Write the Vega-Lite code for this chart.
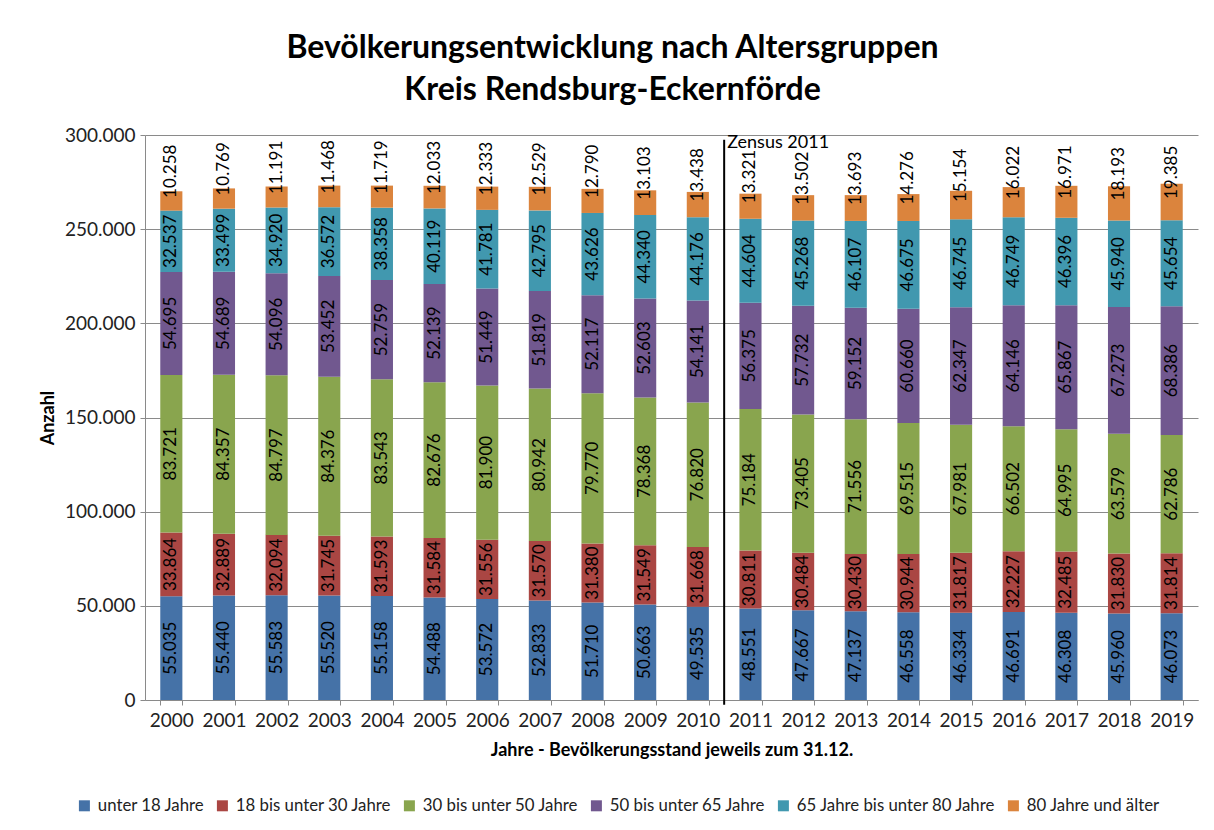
{
  "$schema": "https://vega.github.io/schema/vega-lite/v6.json",
  "width": 1053,
  "height": 565,
  "autosize": {"type": "none"},
  "padding": {"left": 145, "top": 135, "right": 16, "bottom": 130},
  "background": "#ffffff",
  "title": {
    "text": ["Bevölkerungsentwicklung nach Altersgruppen", "Kreis Rendsburg-Eckernförde"],
    "fontSize": 32,
    "fontWeight": "bold",
    "font": "Lato",
    "color": "#000000",
    "lineHeight": 42,
    "anchor": "middle",
    "frame": "group",
    "dx": -59,
    "offset": 19
  },
  "data": {
    "values": [
      {"year": "2000", "g": "unter 18 Jahre", "o": 1, "v": 55035},
      {"year": "2000", "g": "18 bis unter 30 Jahre", "o": 2, "v": 33864},
      {"year": "2000", "g": "30 bis unter 50 Jahre", "o": 3, "v": 83721},
      {"year": "2000", "g": "50 bis unter 65 Jahre", "o": 4, "v": 54695},
      {"year": "2000", "g": "65 Jahre bis unter 80 Jahre", "o": 5, "v": 32537},
      {"year": "2000", "g": "80 Jahre und älter", "o": 6, "v": 10258},
      {"year": "2001", "g": "unter 18 Jahre", "o": 1, "v": 55440},
      {"year": "2001", "g": "18 bis unter 30 Jahre", "o": 2, "v": 32889},
      {"year": "2001", "g": "30 bis unter 50 Jahre", "o": 3, "v": 84357},
      {"year": "2001", "g": "50 bis unter 65 Jahre", "o": 4, "v": 54689},
      {"year": "2001", "g": "65 Jahre bis unter 80 Jahre", "o": 5, "v": 33499},
      {"year": "2001", "g": "80 Jahre und älter", "o": 6, "v": 10769},
      {"year": "2002", "g": "unter 18 Jahre", "o": 1, "v": 55583},
      {"year": "2002", "g": "18 bis unter 30 Jahre", "o": 2, "v": 32094},
      {"year": "2002", "g": "30 bis unter 50 Jahre", "o": 3, "v": 84797},
      {"year": "2002", "g": "50 bis unter 65 Jahre", "o": 4, "v": 54096},
      {"year": "2002", "g": "65 Jahre bis unter 80 Jahre", "o": 5, "v": 34920},
      {"year": "2002", "g": "80 Jahre und älter", "o": 6, "v": 11191},
      {"year": "2003", "g": "unter 18 Jahre", "o": 1, "v": 55520},
      {"year": "2003", "g": "18 bis unter 30 Jahre", "o": 2, "v": 31745},
      {"year": "2003", "g": "30 bis unter 50 Jahre", "o": 3, "v": 84376},
      {"year": "2003", "g": "50 bis unter 65 Jahre", "o": 4, "v": 53452},
      {"year": "2003", "g": "65 Jahre bis unter 80 Jahre", "o": 5, "v": 36572},
      {"year": "2003", "g": "80 Jahre und älter", "o": 6, "v": 11468},
      {"year": "2004", "g": "unter 18 Jahre", "o": 1, "v": 55158},
      {"year": "2004", "g": "18 bis unter 30 Jahre", "o": 2, "v": 31593},
      {"year": "2004", "g": "30 bis unter 50 Jahre", "o": 3, "v": 83543},
      {"year": "2004", "g": "50 bis unter 65 Jahre", "o": 4, "v": 52759},
      {"year": "2004", "g": "65 Jahre bis unter 80 Jahre", "o": 5, "v": 38358},
      {"year": "2004", "g": "80 Jahre und älter", "o": 6, "v": 11719},
      {"year": "2005", "g": "unter 18 Jahre", "o": 1, "v": 54488},
      {"year": "2005", "g": "18 bis unter 30 Jahre", "o": 2, "v": 31584},
      {"year": "2005", "g": "30 bis unter 50 Jahre", "o": 3, "v": 82676},
      {"year": "2005", "g": "50 bis unter 65 Jahre", "o": 4, "v": 52139},
      {"year": "2005", "g": "65 Jahre bis unter 80 Jahre", "o": 5, "v": 40119},
      {"year": "2005", "g": "80 Jahre und älter", "o": 6, "v": 12033},
      {"year": "2006", "g": "unter 18 Jahre", "o": 1, "v": 53572},
      {"year": "2006", "g": "18 bis unter 30 Jahre", "o": 2, "v": 31556},
      {"year": "2006", "g": "30 bis unter 50 Jahre", "o": 3, "v": 81900},
      {"year": "2006", "g": "50 bis unter 65 Jahre", "o": 4, "v": 51449},
      {"year": "2006", "g": "65 Jahre bis unter 80 Jahre", "o": 5, "v": 41781},
      {"year": "2006", "g": "80 Jahre und älter", "o": 6, "v": 12333},
      {"year": "2007", "g": "unter 18 Jahre", "o": 1, "v": 52833},
      {"year": "2007", "g": "18 bis unter 30 Jahre", "o": 2, "v": 31570},
      {"year": "2007", "g": "30 bis unter 50 Jahre", "o": 3, "v": 80942},
      {"year": "2007", "g": "50 bis unter 65 Jahre", "o": 4, "v": 51819},
      {"year": "2007", "g": "65 Jahre bis unter 80 Jahre", "o": 5, "v": 42795},
      {"year": "2007", "g": "80 Jahre und älter", "o": 6, "v": 12529},
      {"year": "2008", "g": "unter 18 Jahre", "o": 1, "v": 51710},
      {"year": "2008", "g": "18 bis unter 30 Jahre", "o": 2, "v": 31380},
      {"year": "2008", "g": "30 bis unter 50 Jahre", "o": 3, "v": 79770},
      {"year": "2008", "g": "50 bis unter 65 Jahre", "o": 4, "v": 52117},
      {"year": "2008", "g": "65 Jahre bis unter 80 Jahre", "o": 5, "v": 43626},
      {"year": "2008", "g": "80 Jahre und älter", "o": 6, "v": 12790},
      {"year": "2009", "g": "unter 18 Jahre", "o": 1, "v": 50663},
      {"year": "2009", "g": "18 bis unter 30 Jahre", "o": 2, "v": 31549},
      {"year": "2009", "g": "30 bis unter 50 Jahre", "o": 3, "v": 78368},
      {"year": "2009", "g": "50 bis unter 65 Jahre", "o": 4, "v": 52603},
      {"year": "2009", "g": "65 Jahre bis unter 80 Jahre", "o": 5, "v": 44340},
      {"year": "2009", "g": "80 Jahre und älter", "o": 6, "v": 13103},
      {"year": "2010", "g": "unter 18 Jahre", "o": 1, "v": 49535},
      {"year": "2010", "g": "18 bis unter 30 Jahre", "o": 2, "v": 31668},
      {"year": "2010", "g": "30 bis unter 50 Jahre", "o": 3, "v": 76820},
      {"year": "2010", "g": "50 bis unter 65 Jahre", "o": 4, "v": 54141},
      {"year": "2010", "g": "65 Jahre bis unter 80 Jahre", "o": 5, "v": 44176},
      {"year": "2010", "g": "80 Jahre und älter", "o": 6, "v": 13438},
      {"year": "2011", "g": "unter 18 Jahre", "o": 1, "v": 48551},
      {"year": "2011", "g": "18 bis unter 30 Jahre", "o": 2, "v": 30811},
      {"year": "2011", "g": "30 bis unter 50 Jahre", "o": 3, "v": 75184},
      {"year": "2011", "g": "50 bis unter 65 Jahre", "o": 4, "v": 56375},
      {"year": "2011", "g": "65 Jahre bis unter 80 Jahre", "o": 5, "v": 44604},
      {"year": "2011", "g": "80 Jahre und älter", "o": 6, "v": 13321},
      {"year": "2012", "g": "unter 18 Jahre", "o": 1, "v": 47667},
      {"year": "2012", "g": "18 bis unter 30 Jahre", "o": 2, "v": 30484},
      {"year": "2012", "g": "30 bis unter 50 Jahre", "o": 3, "v": 73405},
      {"year": "2012", "g": "50 bis unter 65 Jahre", "o": 4, "v": 57732},
      {"year": "2012", "g": "65 Jahre bis unter 80 Jahre", "o": 5, "v": 45268},
      {"year": "2012", "g": "80 Jahre und älter", "o": 6, "v": 13502},
      {"year": "2013", "g": "unter 18 Jahre", "o": 1, "v": 47137},
      {"year": "2013", "g": "18 bis unter 30 Jahre", "o": 2, "v": 30430},
      {"year": "2013", "g": "30 bis unter 50 Jahre", "o": 3, "v": 71556},
      {"year": "2013", "g": "50 bis unter 65 Jahre", "o": 4, "v": 59152},
      {"year": "2013", "g": "65 Jahre bis unter 80 Jahre", "o": 5, "v": 46107},
      {"year": "2013", "g": "80 Jahre und älter", "o": 6, "v": 13693},
      {"year": "2014", "g": "unter 18 Jahre", "o": 1, "v": 46558},
      {"year": "2014", "g": "18 bis unter 30 Jahre", "o": 2, "v": 30944},
      {"year": "2014", "g": "30 bis unter 50 Jahre", "o": 3, "v": 69515},
      {"year": "2014", "g": "50 bis unter 65 Jahre", "o": 4, "v": 60660},
      {"year": "2014", "g": "65 Jahre bis unter 80 Jahre", "o": 5, "v": 46675},
      {"year": "2014", "g": "80 Jahre und älter", "o": 6, "v": 14276},
      {"year": "2015", "g": "unter 18 Jahre", "o": 1, "v": 46334},
      {"year": "2015", "g": "18 bis unter 30 Jahre", "o": 2, "v": 31817},
      {"year": "2015", "g": "30 bis unter 50 Jahre", "o": 3, "v": 67981},
      {"year": "2015", "g": "50 bis unter 65 Jahre", "o": 4, "v": 62347},
      {"year": "2015", "g": "65 Jahre bis unter 80 Jahre", "o": 5, "v": 46745},
      {"year": "2015", "g": "80 Jahre und älter", "o": 6, "v": 15154},
      {"year": "2016", "g": "unter 18 Jahre", "o": 1, "v": 46691},
      {"year": "2016", "g": "18 bis unter 30 Jahre", "o": 2, "v": 32227},
      {"year": "2016", "g": "30 bis unter 50 Jahre", "o": 3, "v": 66502},
      {"year": "2016", "g": "50 bis unter 65 Jahre", "o": 4, "v": 64146},
      {"year": "2016", "g": "65 Jahre bis unter 80 Jahre", "o": 5, "v": 46749},
      {"year": "2016", "g": "80 Jahre und älter", "o": 6, "v": 16022},
      {"year": "2017", "g": "unter 18 Jahre", "o": 1, "v": 46308},
      {"year": "2017", "g": "18 bis unter 30 Jahre", "o": 2, "v": 32485},
      {"year": "2017", "g": "30 bis unter 50 Jahre", "o": 3, "v": 64995},
      {"year": "2017", "g": "50 bis unter 65 Jahre", "o": 4, "v": 65867},
      {"year": "2017", "g": "65 Jahre bis unter 80 Jahre", "o": 5, "v": 46396},
      {"year": "2017", "g": "80 Jahre und älter", "o": 6, "v": 16971},
      {"year": "2018", "g": "unter 18 Jahre", "o": 1, "v": 45960},
      {"year": "2018", "g": "18 bis unter 30 Jahre", "o": 2, "v": 31830},
      {"year": "2018", "g": "30 bis unter 50 Jahre", "o": 3, "v": 63579},
      {"year": "2018", "g": "50 bis unter 65 Jahre", "o": 4, "v": 67273},
      {"year": "2018", "g": "65 Jahre bis unter 80 Jahre", "o": 5, "v": 45940},
      {"year": "2018", "g": "80 Jahre und älter", "o": 6, "v": 18193},
      {"year": "2019", "g": "unter 18 Jahre", "o": 1, "v": 46073},
      {"year": "2019", "g": "18 bis unter 30 Jahre", "o": 2, "v": 31814},
      {"year": "2019", "g": "30 bis unter 50 Jahre", "o": 3, "v": 62786},
      {"year": "2019", "g": "50 bis unter 65 Jahre", "o": 4, "v": 68386},
      {"year": "2019", "g": "65 Jahre bis unter 80 Jahre", "o": 5, "v": 45654},
      {"year": "2019", "g": "80 Jahre und älter", "o": 6, "v": 19385}
    ]
  },
  "encoding": {
    "x": {
      "field": "year",
      "type": "nominal",
      "sort": null,
      "scale": {"type": "band", "paddingInner": 0.58, "paddingOuter": 0.29},
      "axis": {
        "title": "Jahre - Bevölkerungsstand jeweils zum 31.12.",
        "titleFontWeight": "bold",
        "titleFontSize": 18,
        "titleColor": "#000000",
        "titlePadding": 11,
        "labelAngle": 0,
        "labelFontSize": 19,
        "labelColor": "#222222",
        "labelPadding": 6,
        "tickBand": "extent",
        "tickSize": 5,
        "tickColor": "#8a8a8a",
        "domainColor": "#8a8a8a",
        "grid": false
      }
    }
  },
  "layer": [
    {
      "transform": [
        {"stack": "v", "groupby": ["year"], "sort": [{"field": "o", "order": "ascending"}], "as": ["v0", "v1"]}
      ],
      "mark": {"type": "bar"},
      "encoding": {
        "y": {
          "field": "v0",
          "type": "quantitative",
          "scale": {"domain": [0, 300000], "nice": false},
          "axis": {
            "title": "Anzahl",
            "titleFontWeight": "bold",
            "titleFontSize": 18,
            "titleColor": "#000000",
            "titlePadding": 7,
            "values": [0, 50000, 100000, 150000, 200000, 250000, 300000],
            "format": ",d",
            "labelFontSize": 19,
            "labelColor": "#222222",
            "labelPadding": 5,
            "tickSize": 5,
            "tickColor": "#8a8a8a",
            "domainColor": "#8a8a8a",
            "grid": true,
            "gridColor": "#8a8a8a",
            "gridWidth": 1
          }
        },
        "y2": {"field": "v1"},
        "color": {
          "field": "g",
          "type": "nominal",
          "scale": {
            "domain": ["unter 18 Jahre", "18 bis unter 30 Jahre", "30 bis unter 50 Jahre", "50 bis unter 65 Jahre", "65 Jahre bis unter 80 Jahre", "80 Jahre und älter"],
            "range": ["#4572A7", "#AA4643", "#89A54E", "#71588F", "#4198AF", "#DB843D"]
          },
          "legend": {
            "title": null,
            "orient": "none",
            "direction": "horizontal",
            "legendX": -69,
            "legendY": 662,
            "symbolType": "square",
            "symbolSize": 121,
            "symbolStrokeWidth": 0,
            "labelFontSize": 16.8,
            "labelLimit": 0,
            "labelColor": "#222222",
            "labelOffset": 5,
            "columnPadding": 9,
            "padding": 0
          }
        }
      }
    },
    {
      "transform": [
        {"stack": "v", "groupby": ["year"], "sort": [{"field": "o", "order": "ascending"}], "as": ["v0", "v1"]},
        {"calculate": "(datum.v0 + datum.v1) / 2", "as": "vm"},
        {"filter": "datum.o < 6"}
      ],
      "mark": {"type": "text", "angle": 270, "align": "center", "baseline": "middle", "fontSize": 17, "color": "#000000"},
      "encoding": {
        "y": {"field": "vm", "type": "quantitative", "scale": {"domain": [0, 300000], "nice": false}},
        "text": {"field": "v", "type": "quantitative", "format": ",d"}
      }
    },
    {
      "transform": [
        {"stack": "v", "groupby": ["year"], "sort": [{"field": "o", "order": "ascending"}], "as": ["v0", "v1"]},
        {"calculate": "(datum.v0 + datum.v1) / 2", "as": "vm"},
        {"filter": "datum.o == 6"}
      ],
      "mark": {"type": "text", "angle": 270, "align": "left", "baseline": "middle", "fontSize": 17, "color": "#000000", "dx": 3},
      "encoding": {
        "y": {"field": "vm", "type": "quantitative", "scale": {"domain": [0, 300000], "nice": false}},
        "text": {"field": "v", "type": "quantitative", "format": ",d"}
      }
    },
    {
      "data": {"values": [{"year": "2011", "top": 297500, "bottom": -2500, "label": "Zensus 2011", "ly": 293000}]},
      "layer": [
        {
          "mark": {"type": "rule", "color": "#000000", "strokeWidth": 2},
          "encoding": {
            "x": {"field": "year", "type": "nominal", "bandPosition": -0.69},
            "y": {"field": "top", "type": "quantitative", "scale": {"domain": [0, 300000], "nice": false}},
            "y2": {"field": "bottom"}
          }
        },
        {
          "mark": {"type": "text", "align": "left", "baseline": "alphabetic", "fontSize": 18, "color": "#000000", "dx": 3},
          "encoding": {
            "x": {"field": "year", "type": "nominal", "bandPosition": -0.69},
            "y": {"field": "ly", "type": "quantitative", "scale": {"domain": [0, 300000], "nice": false}},
            "text": {"field": "label"}
          }
        }
      ]
    }
  ],
  "config": {
    "locale": {"number": {"decimal": ",", "thousands": ".", "grouping": [3], "currency": ["", " €"]}},
    "font": "Lato",
    "view": {"stroke": null}
  }
}
